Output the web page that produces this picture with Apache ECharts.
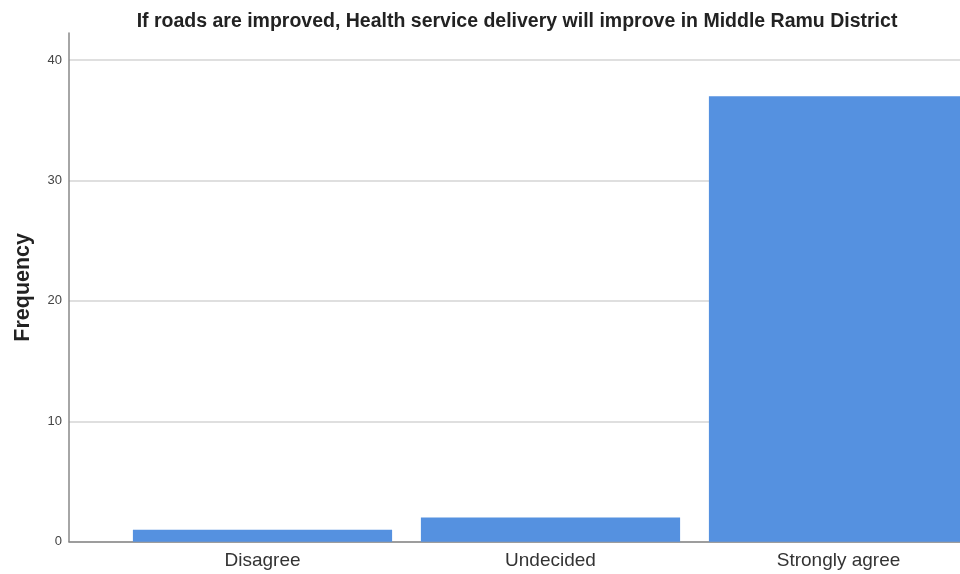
<!DOCTYPE html>
<html>
<head>
<meta charset="utf-8">
<script src="https://cdn.jsdelivr.net/npm/echarts@6/dist/echarts.min.js"></script>
<style>
  html, body { margin: 0; padding: 0; background: #fff; }
  #chart { width: 960px; height: 574px; }
</style>
</head>
<body>
<div id="chart"></div>
<script>
  // 数据
  var categories = ['Disagree', 'Undecided', 'Strongly agree'];
  var frequency = [1, 2, 37];
  var yTicks = [0, 10, 20, 30, 40];

  var node = document.getElementById('chart');
  var chart = echarts.init(node);

  var font = 'Liberation Sans, Arial, sans-serif';

  var option = {
    backgroundColor: '#fff',
    animation: false,
    title: {
      text: 'If roads are improved, Health service delivery will improve in Middle Ramu District',
      left: 512,
      top: 7,
      textAlign: 'center',
      textStyle: {
        color: '#222',
        fontFamily: font,
        fontWeight: 'bold',
        fontSize: 19.5
      }
    },
    // grid 0: 坐标轴和网格线, grid 1: 柱子（SPSS 左侧留白，右侧被裁掉）
    grid: [
      { left: 69, right: 0, top: 33, bottom: 32.3, outerBoundsMode: 'none' },
      { left: 118.5, width: 864, top: 33, bottom: 32.3, outerBoundsMode: 'none' }
    ],
    xAxis: [{
      type: 'value',
      gridIndex: 0,
      min: 0,
      max: 1,
      axisLine: { show: true, lineStyle: { color: '#888', width: 1.5 } },
      axisTick: { show: false },
      axisLabel: { show: false },
      splitLine: { show: false }
    }, {
      type: 'category',
      gridIndex: 1,
      data: categories,
      axisLine: { show: false },
      axisTick: { show: false },
      axisLabel: {
        color: '#333',
        fontFamily: font,
        fontSize: 19,
        margin: 10
      }
    }],
    yAxis: [{
      type: 'value',
      gridIndex: 0,
      min: 0,
      max: 42.25,
      interval: 10,
      name: 'Frequency',
      nameLocation: 'middle',
      nameRotate: 90,
      nameGap: 35,
      nameTextStyle: {
        color: '#222',
        fontFamily: font,
        fontWeight: 'bold',
        fontSize: 21.5
      },
      axisLine: { show: true, lineStyle: { color: '#888', width: 1.5 } },
      axisTick: { show: false },
      axisLabel: {
        color: '#444',
        fontFamily: font,
        fontSize: 13,
        margin: 7,
        formatter: function(v) {
          return yTicks.indexOf(v) >= 0 ? v : '';
        }
      },
      splitLine: { show: true, showMaxLine: false, lineStyle: { color: '#d4d4d4', width: 1.5 } }
    }, {
      type: 'value',
      gridIndex: 1,
      min: 0,
      max: 42.25,
      interval: 10,
      axisLine: { show: false },
      axisTick: { show: false },
      axisLabel: { show: false },
      splitLine: { show: false }
    }],
    series: [{
      type: 'bar',
      xAxisIndex: 1,
      yAxisIndex: 1,
      data: frequency,
      barCategoryGap: '10%',
      itemStyle: { color: '#5591e0' },
      z: 3
    }]
  };

  chart.setOption(option);
</script>
</body>
</html>
